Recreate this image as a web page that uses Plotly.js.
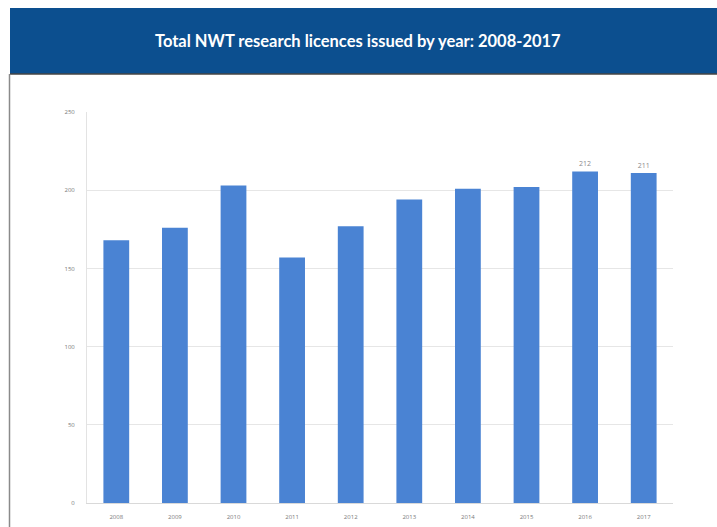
<!DOCTYPE html>
<html>
<head>
<meta charset="utf-8">
<script src="https://cdn.plot.ly/plotly-3.0.1.min.js"></script>
<style>
html,body{margin:0;padding:0;background:#fff;}
#chart{width:717px;height:527px;}
</style>
</head>
<body>
<div id="chart"></div>
<script>
const years = ["2008","2009","2010","2011","2012","2013","2014","2015","2016","2017"];
const licences = [168, 176, 203, 157, 177, 194, 201, 202, 212, 211];
const barLabels = ["", "", "", "", "", "", "", "", "212", "211"];
const yTicks = [0, 50, 100, 150, 200, 250];
const headerTitle = "Total NWT research licences issued by year: 2008-2017";

// plot area in pixels
const W = 717, H = 527;
const L = 87, R = 673, T = 112, B = 503;
const px = x => (x - L) / (R - L);
const py = y => (B - y) / (B - T);

const trace = {
  type: 'bar',
  x: years,
  y: licences,
  text: barLabels,
  textposition: 'outside',
  textfont: {family: 'Open Sans, sans-serif', size: 7, color: '#8a8a8a'},
  cliponaxis: false,
  marker: {color: '#4a83d3', line: {width: 0}},
  hoverinfo: 'x+y'
};

const layout = {
  width: W, height: H,
  margin: {l: L, r: W - R, t: T, b: H - B, pad: 0},
  paper_bgcolor: '#ffffff',
  plot_bgcolor: '#ffffff',
  showlegend: false,
  bargap: 0.56,
  xaxis: {
    type: 'category',
    tickfont: {family: 'Open Sans, sans-serif', size: 6, color: '#7a7a7a'},
    ticks: 'outside', ticklen: 8, tickcolor: 'rgba(0,0,0,0)',
    showline: true, linecolor: '#d9d9d9', linewidth: 1,
    showgrid: false, zeroline: false, fixedrange: true
  },
  yaxis: {
    range: [0, 250],
    tickvals: yTicks,
    ticktext: yTicks.map(String),
    tickfont: {family: 'Open Sans, sans-serif', size: 6, color: '#7a7a7a'},
    ticks: 'outside', ticklen: 10, tickcolor: 'rgba(0,0,0,0)',
    showline: true, linecolor: '#e3e3e3', linewidth: 1,
    showgrid: true, gridcolor: '#e6e6e6', gridwidth: 1,
    zeroline: false, fixedrange: true
  },
  shapes: [
    {type: 'rect', xref: 'paper', yref: 'paper',
     x0: px(10), x1: px(717), y0: py(74), y1: py(8),
     fillcolor: '#0c4f8f', line: {width: 0}, layer: 'below'},
    {type: 'line', xref: 'paper', yref: 'paper',
     x0: px(10), x1: px(717), y0: py(74), y1: py(74),
     line: {color: '#444444', width: 1.5}},
    {type: 'line', xref: 'paper', yref: 'paper',
     x0: px(9.5), x1: px(9.5), y0: py(74), y1: py(527),
     line: {color: '#8a8a8a', width: 1.5}}
  ],
  annotations: [
    {xref: 'paper', yref: 'paper', x: px(358), y: py(41),
     xanchor: 'center', yanchor: 'middle', showarrow: false,
     text: '<b>' + headerTitle + '</b>',
     font: {family: 'Lato, Open Sans, sans-serif', size: 16.5, color: '#ffffff'}}
  ]
};

Plotly.newPlot('chart', [trace], layout, {displayModeBar: false, staticPlot: true});
</script>
</body>
</html>
